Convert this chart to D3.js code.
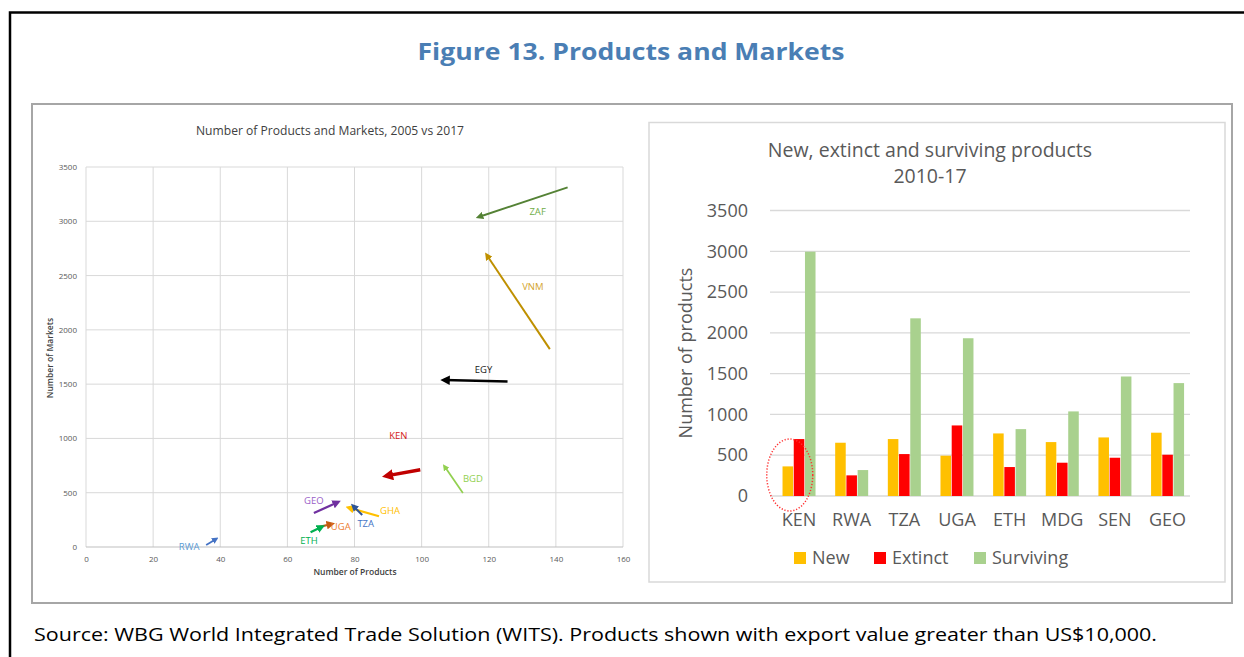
<!DOCTYPE html>
<html>
<head>
<meta charset="utf-8">
<script src="https://cdn.jsdelivr.net/npm/d3@7/dist/d3.min.js"></script>
<style>
  html, body { margin: 0; padding: 0; background: #ffffff; }
  svg { display: block; }
  text { font-family: "Open Sans", "DejaVu Sans", sans-serif; }
</style>
</head>
<body>
<svg id="chart" width="1244" height="657"></svg>
<script>
// ---------------- DATA ----------------
// Left panel: arrows from 2005 (tail) to 2017 (head)
const arrowCountries = ["ZAF", "VNM", "EGY", "KEN", "BGD", "GEO", "GHA", "TZA", "UGA", "ETH", "RWA"];
const products2005 = [143.5, 138.2, 125.6, 99.6, 112.3, 67.9, 87.3, 82.3, 68.9, 66.9, 35.8];
const markets2005  = [3312, 1823, 1525, 712, 498, 313, 283, 295, 181, 135, 18];
const products2017 = [117.0, 119.4, 106.7, 89.5, 106.8, 75.0, 78.3, 79.6, 73.2, 70.3, 38.8];
const markets2017  = [3040, 2689, 1538, 655, 743, 412, 362, 378, 212, 187, 74];
const scatterXTicks = [0, 20, 40, 60, 80, 100, 120, 140, 160];
const scatterYTicks = [0, 500, 1000, 1500, 2000, 2500, 3000, 3500];

// Right panel: grouped bars
const categories = ["KEN", "RWA", "TZA", "UGA", "ETH", "MDG", "SEN", "GEO"];
const seriesNames = ["New", "Extinct", "Surviving"];
const newProducts       = [363, 653, 698, 494, 767, 661, 718, 776];
const extinctProducts   = [698, 253, 514, 865, 355, 408, 469, 506];
const survivingProducts = [2995, 318, 2178, 1934, 820, 1037, 1465, 1384];
const barYTicks = [0, 500, 1000, 1500, 2000, 2500, 3000, 3500];

// ---------------- STYLE ----------------
const arrowStyle = {
  ZAF: { line: "#548235", label: "#70AD47", w: 2,    off: [-30, 25] },
  VNM: { line: "#BF9000", label: "#D4A52E", w: 2,    off: [-17, -62] },
  EGY: { line: "#000000", label: "#1a1a1a", w: 2.5,  off: [-24, -11] },
  KEN: { line: "#C00000", label: "#D42020", w: 3.5,  off: [-22, -33] },
  BGD: { line: "#92D050", label: "#92D050", w: 1.75, off: [10, -13] },
  GEO: { line: "#7030A0", label: "#9B5FC8", w: 2.25, off: [0, -12] },
  GHA: { line: "#FFC000", label: "#FFC000", w: 2.25, off: [11, -5] },
  TZA: { line: "#2F5597", label: "#4472C4", w: 2,    off: [3.5, 9] },
  UGA: { line: "#C55A11", label: "#ED7D31", w: 2.25, off: [23.5, 0] },
  ETH: { line: "#00B050", label: "#00B050", w: 2.25, off: [-1.5, 9.5] },
  RWA: { line: "#4472C4", label: "#5B9BD5", w: 1.75, off: [-17, 2] }
};
const barColors = { New: "#FFC000", Extinct: "#FF0000", Surviving: "#A9D18E" };
const plainFmt = d3.format("d");

const svg = d3.select("#chart");
svg.append("rect").attr("width", 1244).attr("height", 657).attr("fill", "#ffffff");

// Outer document frame (black)
svg.append("path")
  .attr("d", "M10,660 V12.5 H1250")
  .attr("fill", "none").attr("stroke", "#000").attr("stroke-width", 2.5);

// Main title
svg.append("text")
  .attr("x", 631).attr("y", 60)
  .attr("text-anchor", "middle")
  .attr("font-size", 24).attr("font-weight", 700)
  .attr("fill", "#4A7EB4")
  .attr("textLength", 427).attr("lengthAdjust", "spacingAndGlyphs")
  .text("Figure 13. Products and Markets");

// Inner gray panel
svg.append("rect")
  .attr("x", 32).attr("y", 104).attr("width", 1200).attr("height", 499)
  .attr("fill", "none").attr("stroke", "#A6A6A6").attr("stroke-width", 2);

// Source line
svg.append("text")
  .attr("x", 34).attr("y", 641)
  .attr("font-size", 19).attr("fill", "#000")
  .attr("textLength", 1123).attr("lengthAdjust", "spacingAndGlyphs")
  .text("Source: WBG World Integrated Trade Solution (WITS). Products shown with export value greater than US$10,000.");

// ---------------- LEFT: arrow scatter ----------------
const xs = d3.scaleLinear().domain([0, 160]).range([86, 623]);
const ys = d3.scaleLinear().domain([0, 3500]).range([547, 167]);
const left = svg.append("g");

left.append("text")
  .attr("x", 330).attr("y", 135).attr("text-anchor", "middle")
  .attr("font-size", 12).attr("fill", "#404040")
  .attr("textLength", 268).attr("lengthAdjust", "spacingAndGlyphs")
  .text("Number of Products and Markets, 2005 vs 2017");

// gridlines
left.append("g").selectAll("line").data(scatterXTicks).join("line")
  .attr("x1", d => xs(d)).attr("x2", d => xs(d))
  .attr("y1", ys(3500)).attr("y2", ys(0))
  .attr("stroke", "#D9D9D9").attr("stroke-width", 1);
left.append("g").selectAll("line").data(scatterYTicks).join("line")
  .attr("x1", xs(0)).attr("x2", xs(160))
  .attr("y1", d => ys(d)).attr("y2", d => ys(d))
  .attr("stroke", d => d === 0 ? "#BFBFBF" : "#D9D9D9").attr("stroke-width", 1);

// ticks
const xAxisL = d3.axisBottom(xs).tickValues(scatterXTicks).tickFormat(plainFmt).tickSize(0).tickPadding(9);
const gxL = left.append("g").attr("transform", `translate(0,${ys(0)})`).call(xAxisL);
gxL.select(".domain").remove();
gxL.selectAll("text").attr("font-size", 8).attr("fill", "#595959")
  .attr("font-family", "'Open Sans', sans-serif");
const yAxisL = d3.axisLeft(ys).tickValues(scatterYTicks).tickFormat(plainFmt).tickSize(0).tickPadding(9);
const gyL = left.append("g").attr("transform", `translate(${xs(0)},0)`).call(yAxisL);
gyL.select(".domain").remove();
gyL.selectAll("text").attr("font-size", 8).attr("fill", "#595959")
  .attr("font-family", "'Open Sans', sans-serif");

left.append("text")
  .attr("x", 355).attr("y", 575).attr("text-anchor", "middle")
  .attr("font-size", 8.5).attr("font-weight", 600).attr("fill", "#404040")
  .text("Number of Products");
left.append("text")
  .attr("transform", "translate(53,358) rotate(-90)")
  .attr("text-anchor", "middle")
  .attr("font-size", 8.5).attr("font-weight", 600).attr("fill", "#404040")
  .text("Number of Markets");

// markers
const defs = svg.append("defs");
arrowCountries.forEach(c => {
  defs.append("marker")
    .attr("id", "arr-" + c)
    .attr("viewBox", "0 0 10 10")
    .attr("refX", 6).attr("refY", 5)
    .attr("markerWidth", c === "KEN" ? 3.2 : 3.8)
    .attr("markerHeight", c === "KEN" ? 3.2 : 3.8)
    .attr("markerUnits", "strokeWidth")
    .attr("orient", "auto")
    .append("path").attr("d", "M0,0 L10,5 L0,10 z")
    .attr("fill", arrowStyle[c].line);
});

const arrows = arrowCountries.map((c, i) => ({
  c, x0: products2005[i], y0: markets2005[i], x1: products2017[i], y1: markets2017[i]
}));

left.append("g").selectAll("line").data(arrows).join("line")
  .attr("x1", d => xs(d.x0)).attr("y1", d => ys(d.y0))
  .attr("x2", d => xs(d.x1)).attr("y2", d => ys(d.y1))
  .attr("stroke", d => arrowStyle[d.c].line)
  .attr("stroke-width", d => arrowStyle[d.c].w)
  .attr("marker-end", d => `url(#arr-${d.c})`);

left.append("g").selectAll("text").data(arrows).join("text")
  .attr("x", d => xs(d.x0) + arrowStyle[d.c].off[0])
  .attr("y", d => ys(d.y0) + arrowStyle[d.c].off[1])
  .attr("text-anchor", "middle").attr("dominant-baseline", "middle")
  .attr("font-size", 9.5).attr("fill", d => arrowStyle[d.c].label)
  .text(d => d.c);

// ---------------- RIGHT: grouped bars ----------------
const right = svg.append("g");
right.append("rect")
  .attr("x", 649).attr("y", 122.5).attr("width", 576).attr("height", 459.5)
  .attr("fill", "#fff").attr("stroke", "#D9D9D9").attr("stroke-width", 1.5);

right.append("text").attr("x", 930).attr("y", 157).attr("text-anchor", "middle")
  .attr("font-size", 19.5).attr("fill", "#595959")
  .text("New, extinct and surviving products");
right.append("text").attr("x", 930).attr("y", 183).attr("text-anchor", "middle")
  .attr("font-size", 19.5).attr("fill", "#595959")
  .text("2010-17");

const x0 = d3.scaleBand().domain(categories).range([769.7, 1190.9]);
const groupW = 33;
const x1 = d3.scaleBand().domain(seriesNames)
  .range([(x0.bandwidth() - groupW) / 2 + 3, (x0.bandwidth() + groupW) / 2 + 3])
  .paddingInner(0.06);
const yb = d3.scaleLinear().domain([0, 3500]).range([496, 210.5]);

right.append("g").selectAll("line").data(barYTicks).join("line")
  .attr("x1", 770).attr("x2", 1190)
  .attr("y1", d => yb(d)).attr("y2", d => yb(d))
  .attr("stroke", "#D9D9D9").attr("stroke-width", 1.3);

const yAxisR = d3.axisLeft(yb).tickValues(barYTicks).tickFormat(plainFmt).tickSize(0).tickPadding(22);
const gyR = right.append("g").attr("transform", "translate(770,0)").call(yAxisR);
gyR.select(".domain").remove();
gyR.selectAll("text").attr("font-size", 18).attr("fill", "#595959")
  .attr("font-family", "'Open Sans', sans-serif");

right.append("text")
  .attr("transform", "translate(692,353) rotate(-90)")
  .attr("text-anchor", "middle")
  .attr("font-size", 18).attr("fill", "#595959")
  .text("Number of products");

const seriesVals = { New: newProducts, Extinct: extinctProducts, Surviving: survivingProducts };
const barData = [];
categories.forEach((cat, i) => {
  seriesNames.forEach(s => barData.push({ cat, s, v: seriesVals[s][i] }));
});
right.append("g").selectAll("rect").data(barData).join("rect")
  .attr("x", d => x0(d.cat) + x1(d.s))
  .attr("width", x1.bandwidth())
  .attr("y", d => yb(d.v))
  .attr("height", d => yb(0) - yb(d.v))
  .attr("fill", d => barColors[d.s]);

const xAxisR = d3.axisBottom(x0).tickSize(0).tickPadding(17);
const gxR = right.append("g").attr("transform", `translate(3,${yb(0)})`).call(xAxisR);
gxR.select(".domain").remove();
gxR.selectAll("text").attr("font-size", 18).attr("fill", "#595959")
  .attr("font-family", "'Open Sans', sans-serif");

// red dotted ellipse around KEN
right.append("ellipse")
  .attr("cx", x0("KEN") + x1("Extinct") - 4)
  .attr("cy", yb(0) - 21)
  .attr("rx", 23).attr("ry", 36)
  .attr("fill", "none").attr("stroke", "#FF3030")
  .attr("stroke-width", 1.5).attr("stroke-dasharray", "1.2,1.8");

// legend
const legendItems = [
  { s: "New", x: 794 }, { s: "Extinct", x: 874 }, { s: "Surviving", x: 974 }
];
const lg = right.append("g");
lg.selectAll("rect").data(legendItems).join("rect")
  .attr("x", d => d.x).attr("y", 552).attr("width", 12).attr("height", 12)
  .attr("fill", d => barColors[d.s]);
lg.selectAll("text").data(legendItems).join("text")
  .attr("x", d => d.x + 18).attr("y", 564)
  .attr("font-size", 18).attr("fill", "#595959")
  .text(d => d.s);
</script>
</body>
</html>
